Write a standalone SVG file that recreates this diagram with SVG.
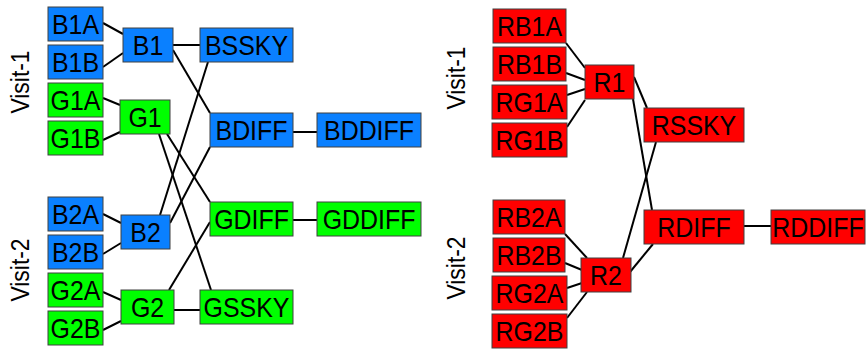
<svg xmlns="http://www.w3.org/2000/svg" width="866" height="349" viewBox="0 0 866 349">
<style>
rect{stroke:#404040;stroke-width:1}
.b{fill:#0a80ff}.g{fill:#00ff00}.r{fill:#ff0000}
text{font-family:"Liberation Sans",Arial,sans-serif;font-size:28px;fill:#000;text-anchor:middle}
.v{font-size:26px}
#connectors line{stroke:#000;stroke-width:2}
</style>
<rect width="866" height="349" fill="#fff" style="stroke:none"/>
<g id="connectors">
<line x1="103" y1="23" x2="123" y2="34"/>
<line x1="103" y1="67" x2="123" y2="53"/>
<line x1="103" y1="98" x2="120" y2="105"/>
<line x1="103" y1="140" x2="120" y2="132"/>
<line x1="103" y1="214" x2="121" y2="223"/>
<line x1="103" y1="254" x2="121" y2="243"/>
<line x1="103" y1="292" x2="121" y2="300"/>
<line x1="103" y1="330" x2="121" y2="321"/>
<line x1="173" y1="45" x2="200" y2="45"/>
<line x1="173" y1="50" x2="210" y2="113"/>
<line x1="160" y1="215" x2="208" y2="62"/>
<line x1="170" y1="223" x2="210" y2="147"/>
<line x1="159" y1="134" x2="211" y2="290"/>
<line x1="167" y1="134" x2="210" y2="202"/>
<line x1="169" y1="290" x2="210" y2="222"/>
<line x1="174" y1="310" x2="200" y2="310"/>
<line x1="293" y1="132" x2="317" y2="132"/>
<line x1="293" y1="220" x2="317" y2="220"/>
<line x1="566" y1="43" x2="585" y2="68"/>
<line x1="566" y1="73" x2="585" y2="80"/>
<line x1="567" y1="95" x2="585" y2="89"/>
<line x1="567" y1="127" x2="585" y2="100"/>
<line x1="634" y1="77" x2="647" y2="108"/>
<line x1="633" y1="99" x2="652" y2="210"/>
<line x1="656" y1="142" x2="623" y2="258"/>
<line x1="630" y1="272" x2="653" y2="244"/>
<line x1="565" y1="234" x2="587" y2="258"/>
<line x1="565" y1="263" x2="582" y2="270"/>
<line x1="567" y1="288" x2="582" y2="283"/>
<line x1="567" y1="318" x2="587" y2="292"/>
<line x1="744" y1="226" x2="771" y2="226"/>
</g>
<g id="B1A"><rect class="b" x="48" y="7" width="55" height="34"/><text transform="translate(75.5,34) scale(0.89,1)">B1A</text></g>
<g id="B1B"><rect class="b" x="48" y="45" width="55" height="34"/><text transform="translate(75.5,72) scale(0.89,1)">B1B</text></g>
<g id="G1A"><rect class="g" x="48" y="83" width="55" height="34"/><text transform="translate(75.5,110) scale(0.89,1)">G1A</text></g>
<g id="G1B"><rect class="g" x="48" y="121" width="55" height="34"/><text transform="translate(75.5,148) scale(0.89,1)">G1B</text></g>
<g id="B2A"><rect class="b" x="48" y="197" width="55" height="34"/><text transform="translate(75.5,224) scale(0.89,1)">B2A</text></g>
<g id="B2B"><rect class="b" x="48" y="235" width="55" height="34"/><text transform="translate(75.5,262) scale(0.89,1)">B2B</text></g>
<g id="G2A"><rect class="g" x="48" y="273" width="55" height="34"/><text transform="translate(75.5,300) scale(0.89,1)">G2A</text></g>
<g id="G2B"><rect class="g" x="48" y="311" width="55" height="34"/><text transform="translate(75.5,338) scale(0.89,1)">G2B</text></g>
<g id="B1"><rect class="b" x="123" y="28" width="50" height="34"/><text transform="translate(148,55) scale(0.89,1)">B1</text></g>
<g id="G1"><rect class="g" x="120" y="100" width="50" height="34"/><text transform="translate(145,127) scale(0.89,1)">G1</text></g>
<g id="B2"><rect class="b" x="121" y="215" width="49" height="34"/><text transform="translate(145.5,242) scale(0.89,1)">B2</text></g>
<g id="G2"><rect class="g" x="121" y="290" width="53" height="34"/><text transform="translate(147.5,317) scale(0.89,1)">G2</text></g>
<g id="BSSKY"><rect class="b" x="200" y="28" width="93" height="34"/><text transform="translate(246.5,55) scale(0.89,1)">BSSKY</text></g>
<g id="BDIFF"><rect class="b" x="210" y="113" width="83" height="34"/><text transform="translate(251.5,140) scale(0.89,1)">BDIFF</text></g>
<g id="GDIFF"><rect class="g" x="210" y="202" width="83" height="34"/><text transform="translate(251.5,229) scale(0.89,1)">GDIFF</text></g>
<g id="GSSKY"><rect class="g" x="200" y="290" width="93" height="34"/><text transform="translate(246.5,317) scale(0.89,1)">GSSKY</text></g>
<g id="BDDIFF"><rect class="b" x="317" y="113" width="104" height="34"/><text transform="translate(369,140) scale(0.89,1)">BDDIFF</text></g>
<g id="GDDIFF"><rect class="g" x="317" y="202" width="104" height="34"/><text transform="translate(369,229) scale(0.89,1)">GDDIFF</text></g>
<g id="RB1A"><rect class="r" x="493" y="9" width="73" height="34"/><text transform="translate(529.5,36) scale(0.89,1)">RB1A</text></g>
<g id="RB1B"><rect class="r" x="493" y="47" width="73" height="34"/><text transform="translate(529.5,74) scale(0.89,1)">RB1B</text></g>
<g id="RG1A"><rect class="r" x="492" y="85" width="75" height="34"/><text transform="translate(529.5,112) scale(0.89,1)">RG1A</text></g>
<g id="RG1B"><rect class="r" x="492" y="123" width="75" height="34"/><text transform="translate(529.5,150) scale(0.89,1)">RG1B</text></g>
<g id="R1"><rect class="r" x="585" y="65" width="49" height="34"/><text transform="translate(609.5,92) scale(0.89,1)">R1</text></g>
<g id="RSSKY"><rect class="r" x="644" y="108" width="100" height="34"/><text transform="translate(694,135) scale(0.89,1)">RSSKY</text></g>
<g id="RB2A"><rect class="r" x="493" y="200" width="72" height="34"/><text transform="translate(529,227) scale(0.89,1)">RB2A</text></g>
<g id="RB2B"><rect class="r" x="493" y="238" width="72" height="34"/><text transform="translate(529,265) scale(0.89,1)">RB2B</text></g>
<g id="RG2A"><rect class="r" x="492" y="276" width="75" height="34"/><text transform="translate(529.5,303) scale(0.89,1)">RG2A</text></g>
<g id="RG2B"><rect class="r" x="492" y="314" width="75" height="34"/><text transform="translate(529.5,341) scale(0.89,1)">RG2B</text></g>
<g id="R2"><rect class="r" x="581" y="258" width="50" height="34"/><text transform="translate(606,285) scale(0.89,1)">R2</text></g>
<g id="RDIFF"><rect class="r" x="644" y="210" width="100" height="34"/><text transform="translate(694,237) scale(0.89,1)">RDIFF</text></g>
<g id="RDDIFF"><rect class="r" x="771" y="210" width="94" height="34"/><text transform="translate(818,237) scale(0.89,1)">RDDIFF</text></g>
<text class="v" transform="translate(29,82) rotate(-90) scale(0.88,1)">Visit-1</text>
<text class="v" transform="translate(29,270) rotate(-90) scale(0.88,1)">Visit-2</text>
<text class="v" transform="translate(465,78) rotate(-90) scale(0.88,1)">Visit-1</text>
<text class="v" transform="translate(465,268) rotate(-90) scale(0.88,1)">Visit-2</text>
</svg>
